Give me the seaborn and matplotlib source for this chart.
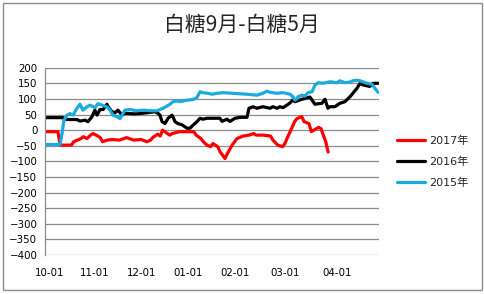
import matplotlib
matplotlib.use("Agg")
import matplotlib.pyplot as plt
import matplotlib.patches as mpatches
import seaborn as sns
import pandas as pd

# ---- data (x = trading-day index) ----
title = "白糖9月-白糖5月"
tick_pos = [2.1, 20.8, 40.4, 59.6, 79.2, 100.0, 121.7]
tick_labels = ["10-01", "11-01", "12-01", "01-01", "02-01", "03-01", "04-01"]
series_names = ["2017年", "2016年", "2015年"]
series_colors = ["#FF0000", "#000000", "#1BA9E2"]

x2017 = [0, 5.4, 6.3, 11, 12, 15, 16, 17.5, 19, 20, 22, 23, 24, 26, 28, 31, 34, 37,
         40, 42.5, 44, 45, 47, 48, 49, 51, 52, 53, 56, 59, 62, 63, 65, 66, 67.5, 69,
         70, 72, 73, 74, 75, 76, 78, 80, 82.5, 85, 87, 88, 91, 94, 95, 97, 99, 100,
         101, 103, 104, 105, 107, 108, 110, 111, 112.5, 114, 115, 117, 118]
y2017 = [-5, -5, -48, -48, -37, -27, -21, -27, -16, -11, -19, -24, -37, -32, -30, -32,
         -24, -32, -30, -37, -32, -23, -13, -19, 0, -11, -16, -11, -5, -5, -5, -16, -27,
         -37, -48, -53, -43, -53, -70, -80, -91, -75, -48, -27, -19, -16, -11, -16, -16,
         -19, -32, -48, -53, -43, -24, 9, 27, 37, 43, 27, 21, -5, 2, 9, 5, -37, -70]

x2016 = [0, 7.5, 8.3, 13.3, 14.6, 16.7, 17.9, 19.6, 20.8, 21.7, 22.9, 24.2, 25.8, 26.3,
         27.9, 29.2, 30.4, 32.1, 33.3, 37.5, 40.4, 42.9, 45.8, 47.1, 47.9, 48.8, 50,
         51.3, 52.9, 53.3, 54.2, 55.4, 57.1, 59.2, 60.4, 61.7, 63.3, 64.6, 65.8, 67.5,
         72.9, 73.8, 75.8, 77.1, 79.2, 81.3, 84.2, 85, 86.7, 88.3, 90.8, 93.8, 95, 96.7,
         97.9, 99.2, 100.8, 102.1, 103.3, 104.2, 107.1, 110.4, 112.5, 115.4, 116.7,
         117.9, 118.8, 120.8, 122.9, 125, 127.1, 128.3, 130, 131.3, 132.5, 134.2, 135.4,
         136.7, 138.8]
y2016 = [40, 40, 34, 34, 29, 32, 27, 43, 64, 48, 66, 66, 83, 75, 59, 56, 64, 48, 54, 52,
         54, 56, 59, 54, 48, 27, 21, 38, 48, 43, 27, 21, 17, 6, 6, 16, 27, 38, 35, 38,
         38, 28, 35, 28, 38, 41, 41, 70, 75, 70, 75, 70, 75, 70, 75, 72, 80, 87, 97, 91,
         99, 106, 83, 86, 99, 70, 75, 75, 86, 91, 107, 118, 134, 150, 145, 142, 140, 150,
         150]

x2015 = [0, 6.3, 7.1, 7.9, 9.2, 10.4, 11.7, 13.3, 14.6, 15.8, 17.5, 18.8, 20.8, 22.1,
         23.8, 25.8, 27.1, 28.3, 30, 31.3, 32.1, 33.3, 35.4, 38.3, 40.8, 43.8, 46.7,
         49.2, 50.8, 52.1, 53.3, 55, 56.3, 59.2, 61.7, 63.3, 64.6, 65.8, 67.9, 69.6,
         71.7, 74.2, 78.3, 84.2, 88.3, 90.8, 92.5, 93.8, 96.7, 99.2, 102.1, 103.3, 104.2,
         105, 105.4, 107.1, 108.3, 109.6, 111.3, 112.5, 113.8, 115.8, 118.8, 121.7,
         122.9, 125, 127.1, 128.3, 130.4, 132.5, 134.2, 136.3, 137.5, 138.8]
y2015 = [-46, -46, -11, 32, 48, 53, 48, 70, 83, 64, 75, 80, 72, 85, 80, 75, 64, 48, 43,
         37, 48, 64, 66, 62, 64, 62, 62, 70, 77, 83, 91, 94, 91, 96, 98, 104, 123, 120,
         118, 115, 118, 120, 118, 115, 112, 118, 125, 121, 118, 120, 115, 107, 96, 101,
         107, 112, 109, 120, 123, 144, 152, 150, 155, 152, 158, 152, 154, 158, 160, 155,
         150, 147, 134, 121]

# ---- figure ----
sns.set_style("white")
plt.rcParams["font.family"] = ["DejaVu Sans", "Noto Sans CJK SC"]

W, H = 484, 294
fig = plt.figure(figsize=(W / 100, H / 100), dpi=100)
ax = fig.add_axes([45 / W, 1 - 255 / H, (379 - 45) / W, (255 - 67.7) / H])

frames = []
for name, xs, ys in [(series_names[0], x2017, y2017),
                     (series_names[1], x2016, y2016),
                     (series_names[2], x2015, y2015)]:
    frames.append(pd.DataFrame({"day": xs, "value": ys, "series": name}))
df = pd.concat(frames, ignore_index=True)

for name, color in zip(series_names, series_colors):
    sub = df[df["series"] == name]
    sns.lineplot(data=sub, x="day", y="value", color=color, linewidth=2.3,
                 label=name, ax=ax, estimator=None, sort=False)

ax.set_xlim(0, 139.2)
ax.set_ylim(-400, 200)
ax.set_yticks(range(-400, 201, 50))
ax.set_xticks(tick_pos)
ax.set_xticklabels(tick_labels)
ax.set_xlabel("")
ax.set_ylabel("")
ax.grid(axis="y", color="#8C8C8C", linewidth=0.9)
ax.set_axisbelow(True)
for s in ["top", "right", "bottom"]:
    ax.spines[s].set_visible(False)
ax.spines["left"].set_color("#8C8C8C")
ax.spines["left"].set_linewidth(0.9)
ax.tick_params(axis="both", length=0, labelsize=7.4, colors="black")
ax.tick_params(axis="x", pad=9)
ax.tick_params(axis="y", pad=5.5)

fig.text(242 / W, 1 - 25 / H, title, ha="center", va="center", fontsize=15,
         family=["Noto Sans CJK SC", "DejaVu Sans"])

leg = ax.legend(loc="center left", bbox_to_anchor=(397 / W, 1 - 162 / H),
                bbox_transform=fig.transFigure, frameon=False, fontsize=8,
                handlelength=2.5, handletextpad=0.35, labelspacing=0.95,
                borderpad=0, borderaxespad=0)
for line in leg.get_lines():
    line.set_linewidth(2.3)

fig.patches.append(mpatches.Rectangle((3 / W, 1 - 290 / H), 479 / W, 287 / H,
                                      transform=fig.transFigure, fill=False,
                                      edgecolor="#8C8C8C", linewidth=1))

fig.savefig("out.png", dpi=100)
